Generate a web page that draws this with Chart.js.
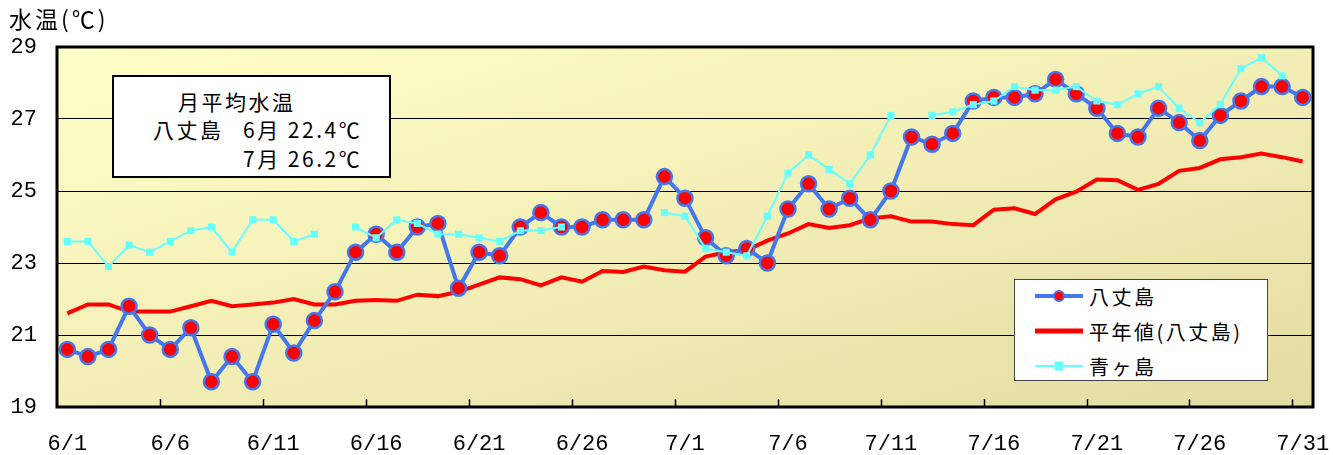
<!DOCTYPE html>
<html lang="ja">
<head>
<meta charset="utf-8">
<title>水温</title>
<script src="https://cdn.jsdelivr.net/npm/chart.js@4/dist/chart.umd.min.js"></script>
<style>
  html, body { margin: 0; padding: 0; background: #fff; }
  #wrap { position: relative; width: 1333px; height: 455px; font-family: "Noto Sans CJK JP", sans-serif; color: #000; }
  #chart { position: absolute; left: 0; top: 0; }
  .ytitle { position: absolute; left: 9px; top: 3px; font-size: 23px; letter-spacing: 3px; line-height: 30px; }
  .note { position: absolute; left: 112px; top: 75px; width: 275px; height: 99px; background: #fff; border: 2px solid #000; font-size: 21px; letter-spacing: 2.5px; }
  .note span { position: absolute; line-height: 28px; white-space: nowrap; }
  .legend { position: absolute; left: 1014px; top: 279px; width: 252px; height: 100px; background: #fff; border: 1px solid #444; font-size: 20px; letter-spacing: 2.5px; }
  .legend .item { position: absolute; left: 20px; height: 30px; display: flex; align-items: center; white-space: nowrap; }
  .legend svg { margin-right: 6px; }
</style>
</head>
<body>
<div id="wrap">
  <canvas id="chart" width="1333" height="455"></canvas>
  <div class="ytitle">水温(℃)</div>
  <div class="note">
    <span style="left:64px; top:10px;">月平均水温</span>
    <span style="left:39px; top:38px;">八丈島</span>
    <span style="left:129px; top:38px;">6月 22.4℃</span>
    <span style="left:129px; top:67px;">7月 26.2℃</span>
  </div>
  <div class="legend">
    <div class="item" style="top:1px;">
      <svg width="48" height="16"><line x1="0" y1="8" x2="48" y2="8" stroke="#4477EE" stroke-width="4"/><circle cx="24" cy="8" r="5" fill="#FF0000" stroke="#4477EE" stroke-width="2"/></svg>八丈島
    </div>
    <div class="item" style="top:36px;">
      <svg width="48" height="16"><line x1="0" y1="8" x2="48" y2="8" stroke="#FF0000" stroke-width="5"/></svg>平年値(八丈島)
    </div>
    <div class="item" style="top:71px;">
      <svg width="48" height="16"><line x1="0" y1="8" x2="48" y2="8" stroke="#66FFFF" stroke-width="2"/><rect x="19.5" y="3.5" width="9" height="9" fill="#66FFFF"/></svg>青ヶ島
    </div>
  </div>
</div>
<script>
const days = [];
for (let d = 1; d <= 30; d++) days.push('6/' + d);
for (let d = 1; d <= 31; d++) days.push('7/' + d);

const hachijo = [
  20.6, 20.4, 20.6, 21.8, 21.0, 20.6, 21.2, 19.7, 20.4, 19.7,
  21.3, 20.5, 21.4, 22.2, 23.3, 23.8, 23.3, 24.0, 24.1, 22.3,
  23.3, 23.2, 24.0, 24.4, 24.0, 24.0, 24.2, 24.2, 24.2, 25.4,
  24.8, 23.7, 23.2, 23.4, 23.0, 24.5, 25.2, 24.5, 24.8, 24.2,
  25.0, 26.5, 26.3, 26.6, 27.5, 27.6, 27.6, 27.7, 28.1, 27.7,
  27.3, 26.6, 26.5, 27.3, 26.9, 26.4, 27.1, 27.5, 27.9, 27.9,
  27.6
];

const normal = [
  21.6, 21.85, 21.85, 21.65, 21.65, 21.65, 21.8, 21.95, 21.8, 21.85,
  21.9, 22.0, 21.85, 21.85, 21.95, 21.97, 21.95, 22.12, 22.08, 22.2,
  22.4, 22.6, 22.55, 22.38, 22.6, 22.48, 22.78, 22.75, 22.9, 22.8,
  22.76, 23.18, 23.3, 23.36, 23.62, 23.82, 24.08, 23.97, 24.05, 24.24,
  24.3, 24.15, 24.15, 24.08, 24.05, 24.48, 24.52, 24.36, 24.77, 24.98,
  25.32, 25.3, 25.03, 25.2, 25.56, 25.64, 25.88, 25.94, 26.04, 25.94,
  25.82
];

const aogashima = [
  23.6, 23.6, 22.9, 23.5, 23.3, 23.6, 23.9, 24.0, 23.3, 24.2,
  24.2, 23.6, 23.8, null, 24.0, 23.7, 24.2, 24.1, 23.8, 23.8,
  23.7, 23.6, 23.9, 23.9, 24.0, null, null, null, null, 24.4,
  24.3, 23.4, 23.3, 23.2, 24.3, 25.5, 26.0, 25.6, 25.2, 26.0,
  27.1, null, 27.1, 27.2, 27.4, 27.5, 27.9, 27.8, 27.8, 27.9,
  27.5, 27.4, 27.7, 27.9, 27.3, 26.9, 27.4, 28.4, 28.7, 28.2,
  null
];

const yTicks = [19, 21, 23, 25, 27, 29];

const monoFont = { family: '"Liberation Mono", "DejaVu Sans Mono", monospace', size: 22 };

// plot area gradient + frame + inner tick marks
const framePlugin = {
  id: 'frame',
  beforeDraw(chart) {
    const { ctx, chartArea: a } = chart;
    ctx.save();
    ctx.translate(a.left, a.top);
    ctx.scale(a.right - a.left, a.bottom - a.top);
    const g = ctx.createLinearGradient(0, 0, 1, 1);
    g.addColorStop(0, '#FFFFC8');
    g.addColorStop(0.5, '#F2EEB6');
    g.addColorStop(1, '#E3DCA2');
    ctx.fillStyle = g;
    ctx.fillRect(0, 0, 1, 1);
    ctx.restore();
  },
  afterDatasetsDraw(chart) {
    const { ctx, chartArea: a, scales } = chart;
    const x = scales.x;
    ctx.save();
    ctx.strokeStyle = '#000';
    ctx.lineWidth = 1.5;
    ctx.beginPath();
    for (let i = 5; i < days.length; i += 5) {
      const px = Math.round((x.getPixelForValue(i) + x.getPixelForValue(i - 1)) / 2) + 0.5;
      ctx.moveTo(px, a.bottom);
      ctx.lineTo(px, a.bottom - 8);
    }
    ctx.stroke();
    ctx.lineWidth = 3;
    ctx.strokeRect(a.left, a.top, a.right - a.left, a.bottom - a.top);
    ctx.restore();
  }
};

new Chart(document.getElementById('chart'), {
  type: 'line',
  data: {
    labels: days,
    datasets: [
      {
        label: '八丈島',
        data: hachijo,
        borderColor: '#4477EE',
        borderWidth: 4,
        pointRadius: 7.5,
        pointBackgroundColor: '#FF0000',
        pointBorderColor: '#4477EE',
        pointBorderWidth: 2.5,
        tension: 0,
        order: 1
      },
      {
        label: '平年値(八丈島)',
        data: normal,
        borderColor: '#FF0000',
        borderWidth: 4,
        pointRadius: 0,
        tension: 0,
        order: 2
      },
      {
        label: '青ヶ島',
        data: aogashima,
        borderColor: '#66FFFF',
        borderWidth: 2,
        pointStyle: 'rect',
        pointRadius: 5,
        pointBackgroundColor: '#66FFFF',
        pointBorderColor: '#66FFFF',
        pointBorderWidth: 0,
        spanGaps: false,
        tension: 0,
        order: 0
      }
    ]
  },
  options: {
    responsive: false,
    animation: false,
    layout: { padding: { left: 0, top: 47, right: 20, bottom: 0 } },
    plugins: {
      legend: { display: false },
      tooltip: { enabled: false }
    },
    scales: {
      x: {
        type: 'category',
        offset: true,
        grid: { display: false, drawTicks: false },
        border: { display: false },
        ticks: {
          autoSkip: false,
          maxRotation: 0,
          minRotation: 0,
          padding: 24,
          color: '#000',
          font: monoFont,
          callback: (v, i) => (i % 5 === 0 ? days[i] : '')
        },
        afterFit: (s) => { s.height = 48; s.paddingLeft = 0; s.paddingRight = 0; }
      },
      y: {
        min: 19,
        max: 29,
        afterBuildTicks: (s) => { s.ticks = yTicks.map((v) => ({ value: v })); },
        grid: { color: '#000', lineWidth: 1, drawTicks: false },
        border: { display: false },
        ticks: {
          padding: 20,
          color: '#000',
          font: monoFont
        },
        afterFit: (s) => { s.width = 57; s.paddingTop = 0; s.paddingBottom = 0; }
      }
    }
  },
  plugins: [framePlugin]
});
</script>
</body>
</html>
